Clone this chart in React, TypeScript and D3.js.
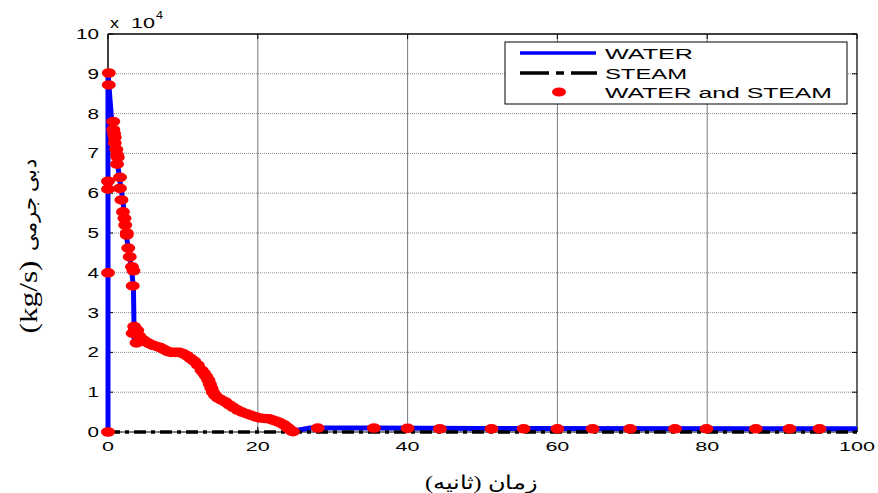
import React from 'react';
import * as d3 from 'd3';

// ---- data (mass flow in units of 1e4 kg/s, time in s) ----
const waterT = [0, 0, 0.5, 1.0, 1.6, 2.0, 2.4, 2.8, 3.2, 3.4, 3.5, 3.7, 4.5, 5.5, 7, 8.3, 9.6, 10.5, 11.4, 12.5, 13.6, 14.9, 16.7, 18.5, 20.3, 21.5, 22.5, 23.9, 24.6, 25.5, 27, 35, 50, 100];
const waterQ = [0, 9.0, 7.8, 7.1, 6.3, 5.8, 5.0, 4.5, 4.0, 3.6, 2.25, 2.6, 2.35, 2.2, 2.1, 2.01, 1.98, 1.92, 1.75, 1.45, 1.1, 0.8, 0.6, 0.43, 0.36, 0.34, 0.27, 0.13, 0.01, 0.05, 0.1, 0.1, 0.09, 0.08];

const steamT = [0, 100];
const steamQ = [0, 0];

const mixT = [
  0.1, 0.1, 0.7, 0.7, 0.8, 0.9, 0.9, 1.1, 1.2, 1.2, 1.3, 1.6, 0, 0, 1.6, 1.8, 2.0, 2.2, 2.3, 2.5, 2.5, 2.7, 2.9, 3.2, 3.4, 0, 3.3,
  3.6, 3.3, 3.8, 3.5, 3.9, 4.2, 4.6, 5.0, 5.5, 6.0, 6.5, 7.0, 7.5, 8.0, 8.5, 9.0, 9.5, 10.0, 10.5, 11.0, 11.5, 12.0, 12.5, 12.8,
  13.1, 13.4, 13.6, 13.8, 14.0, 14.3, 14.7, 15.2, 15.7, 16.2, 16.7, 17.3, 17.9, 18.5, 19.1, 19.7, 20.3, 20.9, 21.5, 22.0, 22.5,
  23.0, 23.5, 23.9, 24.2, 24.5, 24.7, 0,
  28, 35.5, 40, 44.3, 51.2, 55.5, 60, 64.7, 69.7, 75.7, 79.9, 86.5, 91, 95,
];
const mixQ = [
  9.02, 8.72, 7.8, 7.6, 7.5, 7.4, 7.26, 7.1, 6.96, 6.73, 6.9, 6.4, 6.3, 6.1, 6.12, 5.83, 5.53, 5.37, 5.2, 5.0, 4.95, 4.62, 4.4, 4.15, 4.05, 4.0, 3.67,
  2.6, 2.48, 2.24, 2.65, 2.55, 2.4, 2.32, 2.27, 2.22, 2.18, 2.15, 2.12, 2.07, 2.02, 2.0, 2.0, 2.0, 1.97, 1.92, 1.85, 1.78, 1.68, 1.55, 1.48,
  1.4, 1.3, 1.2, 1.1, 1.0, 0.92, 0.85, 0.8, 0.75, 0.68, 0.62, 0.55, 0.5, 0.46, 0.42, 0.38, 0.35, 0.34, 0.33, 0.3, 0.27,
  0.23, 0.18, 0.12, 0.07, 0.03, 0.01, 0,
  0.1, 0.1, 0.09, 0.08, 0.08, 0.08, 0.08, 0.08, 0.08, 0.08, 0.08, 0.08, 0.08, 0.08,
];

const xTicks = [0, 20, 40, 60, 80, 100];
const yTicks = [0, 1, 2, 3, 4, 5, 6, 7, 8, 9, 10];
const legendLabels = ['WATER', 'STEAM', 'WATER and STEAM'];
const xLabel = 'زمان (ثانیه)';
const yLabelUnit = '(kg/s)';
const yLabelText = 'دبی جرمی';

const W = 878;
const H = 493;
const L = 108, R = 857, T = 34, B = 432;

export default function App() {
  const x = d3.scaleLinear().domain([0, 100]).range([L, R]);
  const y = d3.scaleLinear().domain([0, 10]).range([B, T]);
  const line = d3.line<[number, number]>().x(d => x(d[0])).y(d => y(d[1]));
  const water = line(waterT.map((t, i) => [t, waterQ[i]] as [number, number])) || '';
  const steam = line(steamT.map((t, i) => [t, steamQ[i]] as [number, number])) || '';
  const font = 'Arial, "Liberation Sans", Helvetica, sans-serif';
  const serif = '"Liberation Serif", "Times New Roman", "DejaVu Serif", serif';

  return (
    <svg width={W} height={H} style={{ position: 'fixed', left: 0, top: 0, background: '#fff' }}>
      <rect x={0} y={0} width={W} height={H} fill="#fff" />
      {/* grid */}
      {yTicks.filter(v => v > 0 && v < 10).map(v => (
        <line key={'gy' + v} x1={L} x2={R} y1={y(v)} y2={y(v)} stroke="#8c8c8c" strokeWidth={1} strokeDasharray="1,1" />
      ))}
      {xTicks.filter(v => v > 0 && v < 100).map(v => (
        <line key={'gx' + v} x1={x(v)} x2={x(v)} y1={T} y2={B} stroke="#7a7a7a" strokeWidth={1} />
      ))}
      {/* box */}
      <line x1={L} x2={R} y1={T} y2={T} stroke="#000" strokeWidth={1.5} />
      <line x1={R} x2={R} y1={T} y2={B} stroke="#000" strokeWidth={1.2} />
      <line x1={L} x2={L} y1={T} y2={B} stroke="#000" strokeWidth={1.5} />
      <line x1={L} x2={R} y1={B} y2={B} stroke="#000" strokeWidth={1} />
      {/* ticks */}
      {xTicks.map(v => (
        <g key={'tx' + v}>
          <line x1={x(v)} x2={x(v)} y1={B} y2={B - 5} stroke="#000" />
          <line x1={x(v)} x2={x(v)} y1={T} y2={T + 5} stroke="#000" />
          <text x={x(v)} y={451} fontFamily={font} fontSize={13.5} textAnchor="middle"
            textLength={12 * String(v).length} lengthAdjust="spacingAndGlyphs">{v}</text>
        </g>
      ))}
      {yTicks.map(v => (
        <g key={'ty' + v}>
          <line x1={L} x2={L + 5} y1={y(v)} y2={y(v)} stroke="#000" />
          <line x1={R} x2={R - 5} y1={y(v)} y2={y(v)} stroke="#000" />
          <text x={99} y={y(v) + 5} fontFamily={font} fontSize={14} textAnchor="end"
            textLength={11.5 * String(v).length} lengthAdjust="spacingAndGlyphs">{v}</text>
        </g>
      ))}
      <text x={110} y={28} fontFamily={font} fontSize={15} textLength={9} lengthAdjust="spacingAndGlyphs">x</text>
      <text x={131} y={28} fontFamily={font} fontSize={14.5} textLength={24} lengthAdjust="spacingAndGlyphs">10</text>
      <text x={156} y={19} fontFamily={font} fontSize={11} textLength={7} lengthAdjust="spacingAndGlyphs">4</text>

      {/* series */}
      <path d={water} fill="none" stroke="#0000ff" strokeWidth={5} strokeLinejoin="round" />
      <path d={steam} fill="none" stroke="#000" strokeWidth={3.5} strokeDasharray="12,5,4,5" />
      {mixT.map((t, i) => (
        <ellipse key={'m' + i} cx={x(t)} cy={y(mixQ[i])} rx={7} ry={4.8} fill="#ff0000" />
      ))}

      {/* legend */}
      <rect x={505} y={42} width={342} height={62} fill="#fff" stroke="#000" strokeWidth={1} />
      <line x1={520} x2={596} y1={53} y2={53} stroke="#0000ff" strokeWidth={3.5} />
      <line x1={520} x2={597} y1={73} y2={73} stroke="#000" strokeWidth={3.5} strokeDasharray="29,7,8,7" />
      <ellipse cx={559} cy={92} rx={7} ry={4.5} fill="#ff0000" />
      {legendLabels.map((s, i) => (
        <text key={s} x={605} y={59 + i * 19.5} fontFamily={font} fontSize={14}
          textLength={[88, 82, 227][i]} lengthAdjust="spacingAndGlyphs">{s}</text>
      ))}

      {/* axis labels */}
      <text x={481} y={489} fontFamily={serif} fontSize={19} textAnchor="middle"
        direction="rtl" textLength={112} lengthAdjust="spacingAndGlyphs">{xLabel}</text>
      <g transform="translate(37,297) rotate(-90)">
        <text x={0} y={0} fontFamily={serif} fontSize={25} textAnchor="middle"
          textLength={73} lengthAdjust="spacingAndGlyphs">{yLabelUnit}</text>
      </g>
      <g transform="translate(36,205) rotate(-90)">
        <text x={0} y={0} fontFamily={serif} fontSize={20} textAnchor="middle"
          direction="rtl" textLength={92} lengthAdjust="spacingAndGlyphs">{yLabelText}</text>
      </g>
    </svg>
  );
}
